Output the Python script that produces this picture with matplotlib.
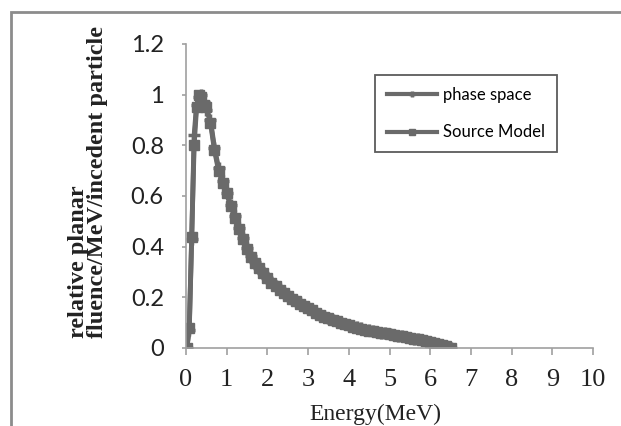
import matplotlib.pyplot as plt
from matplotlib.patches import Rectangle

# energy grid (MeV)
energy = [0.02, 0.08, 0.14, 0.20, 0.26, 0.32, 0.38, 0.44,
          0.5, 0.6, 0.7, 0.8, 0.9, 1.0, 1.1, 1.2, 1.3, 1.4, 1.5, 1.6, 1.7, 1.8, 1.9,
          2.0, 2.1, 2.2, 2.3, 2.4, 2.5, 2.6, 2.7, 2.8, 2.9,
          3.0, 3.1, 3.2, 3.3, 3.4, 3.5, 3.6, 3.7, 3.8, 3.9,
          4.0, 4.1, 4.2, 4.3, 4.4, 4.5, 4.6, 4.7, 4.8, 4.9,
          5.0, 5.1, 5.2, 5.3, 5.4, 5.5, 5.6, 5.7, 5.8, 5.9,
          6.0, 6.1, 6.2, 6.3, 6.4, 6.5]

phase_space = [0.0, 0.07, 0.43, 0.84, 0.96, 0.99, 1.0, 0.97,
               0.94, 0.90, 0.79, 0.71, 0.66, 0.61, 0.565, 0.52, 0.475, 0.435, 0.395, 0.365, 0.338, 0.317, 0.297,
               0.277, 0.26, 0.245, 0.231, 0.218, 0.206, 0.195, 0.185, 0.176, 0.167,
               0.159, 0.151, 0.140, 0.132, 0.125, 0.118, 0.111, 0.106, 0.100, 0.095,
               0.090, 0.085, 0.081, 0.077, 0.073, 0.070, 0.067, 0.064, 0.061, 0.058,
               0.055, 0.052, 0.049, 0.046, 0.043, 0.040, 0.037, 0.034, 0.031, 0.028,
               0.025, 0.021, 0.017, 0.012, 0.006, 0.0]

source_model = [0.0, 0.08, 0.44, 0.80, 0.95, 1.0, 0.99, 0.96,
                0.95, 0.89, 0.78, 0.70, 0.65, 0.61, 0.56, 0.515, 0.47, 0.43, 0.39, 0.36, 0.335, 0.315, 0.295,
                0.275, 0.258, 0.243, 0.229, 0.217, 0.205, 0.194, 0.184, 0.175, 0.166,
                0.158, 0.150, 0.139, 0.131, 0.124, 0.117, 0.110, 0.105, 0.099, 0.094,
                0.089, 0.084, 0.080, 0.076, 0.072, 0.069, 0.066, 0.063, 0.060, 0.058,
                0.055, 0.052, 0.049, 0.046, 0.043, 0.040, 0.037, 0.034, 0.031, 0.028,
                0.025, 0.021, 0.017, 0.012, 0.006, 0.0]

x_ticks = [0, 1, 2, 3, 4, 5, 6, 7, 8, 9, 10]
y_ticks = [0, 0.2, 0.4, 0.6, 0.8, 1.0, 1.2]
y_tick_labels = ['0', '0.2', '0.4', '0.6', '0.8', '1', '1.2']

W, H = 621, 426
fig = plt.figure(figsize=(W / 100, H / 100), dpi=100)
ax = fig.add_axes([186 / W, 1 - 348 / H, (593 - 186) / W, (348 - 44) / H])

line_col = '#6a6a6a'
ax.plot(energy, phase_space, color=line_col, lw=3.5, marker='+', ms=8, mew=2.5,
        label='phase space')
ax.plot(energy, source_model, color=line_col, lw=3.5, marker='s', ms=7.5,
        label='Source Model')

ax.set_xlim(0, 10)
ax.set_ylim(0, 1.2)
ax.set_xticks(x_ticks)
ax.set_xticklabels([str(t) for t in x_ticks], family='Liberation Serif', fontsize=19)
ax.set_yticks(y_ticks)
ax.set_yticklabels(y_tick_labels, family='Lato', fontsize=17)

for s in ['top', 'right']:
    ax.spines[s].set_visible(False)
for s in ['left', 'bottom']:
    ax.spines[s].set_color('#a0a0a0')
    ax.spines[s].set_linewidth(1.2)
ax.tick_params(axis='x', direction='out', length=5, width=1.2, color='#a0a0a0',
               pad=10, labelcolor='#222222')
ax.tick_params(axis='y', direction='out', length=3, width=1.2, color='#a0a0a0',
               pad=13, labelcolor='#222222')

fig.text(375 / W, 1 - 414 / H, 'Energy(MeV)', family='Liberation Serif', fontsize=17,
         ha='center', va='center', color='#222222')
fig.text(88 / W, 1 - 338 / H, 'relative planar\nfluence/MeV/incedent particle',
         family='Liberation Serif', fontweight='bold', fontsize=17.5, rotation=90,
         ha='center', va='bottom', multialignment='left', linespacing=0.92,
         color='#222222')

leg = ax.legend(loc='upper left', bbox_to_anchor=(375 / W, 1 - 75 / H),
                bbox_transform=fig.transFigure, prop={'family': 'Lato', 'size': 12},
                frameon=True, fancybox=False, handlelength=3.0, handletextpad=0.4,
                labelspacing=1.3, borderpad=0.7, borderaxespad=0)
leg.get_frame().set_edgecolor('#333333')
leg.get_frame().set_linewidth(1.3)
for h in leg.legend_handles:
    h.set_linewidth(3)
    h.set_markersize(4)

# outer border of the picture
fig.patches.append(Rectangle((11 / W, -0.2), 1.5, 0.2 + (H - 12) / H,
                             transform=fig.transFigure, fill=False,
                             edgecolor='#8c8c8c', lw=2, clip_on=False))

fig.savefig('out.png', dpi=100)
